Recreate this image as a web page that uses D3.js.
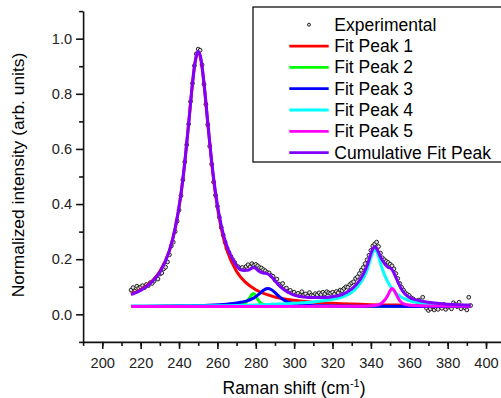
<!DOCTYPE html>
<html lang="en">
<head>
<meta charset="utf-8">
<script src="https://d3js.org/d3.v7.min.js"></script>
<style>
  body { margin: 0; background: #fff; }
  svg { display: block; font-family: "Liberation Sans", Arial, sans-serif; }
  .tick text { font-size: 14.6px; fill: #222; }
  .axis path, .axis line { stroke: #111; stroke-width: 1.6px; }
</style>
</head>
<body>
<script>
// experimental spectrum, one point per cm-1 from 215 to 392
const expStart = 215;
const expY = [
  0.088, 0.097, 0.084, 0.102, 0.095, 0.099, 0.104, 0.097, 0.108, 0.104,
  0.115, 0.112, 0.121, 0.132, 0.128, 0.146, 0.150, 0.165, 0.171, 0.190,
  0.216, 0.248, 0.262, 0.300, 0.338, 0.378, 0.430, 0.488, 0.553, 0.615,
  0.690, 0.772, 0.838, 0.902, 0.945, 0.962, 0.958, 0.905, 0.835, 0.762,
  0.688, 0.610, 0.545, 0.480, 0.432, 0.392, 0.352, 0.315, 0.288, 0.262,
  0.240, 0.225, 0.210, 0.198, 0.188, 0.176, 0.172, 0.166, 0.170, 0.162,
  0.174, 0.180, 0.172, 0.184, 0.178, 0.181, 0.176, 0.170, 0.168, 0.162,
  0.158, 0.152, 0.150, 0.141, 0.138, 0.124, 0.128, 0.110, 0.104, 0.112,
  0.092, 0.095, 0.083, 0.087, 0.078, 0.080, 0.072, 0.076, 0.068, 0.082,
  0.070, 0.074, 0.066, 0.079, 0.070, 0.068, 0.075, 0.071, 0.078, 0.072,
  0.080, 0.074, 0.082, 0.078, 0.076, 0.080, 0.073, 0.083, 0.078, 0.088,
  0.086, 0.094, 0.100, 0.098, 0.108, 0.114, 0.118, 0.130, 0.136, 0.148,
  0.160, 0.170, 0.184, 0.198, 0.214, 0.232, 0.248, 0.255, 0.262, 0.246,
  0.222, 0.205, 0.198, 0.192, 0.188, 0.182, 0.176, 0.165, 0.148, 0.130,
  0.112, 0.098, 0.088, 0.078, 0.072, 0.068, 0.060, 0.056, 0.050, 0.046,
  0.052, 0.040, 0.062, 0.034, 0.022, 0.014, 0.020, 0.028, 0.016, 0.024,
  0.018, 0.030, 0.022, 0.036, 0.018, 0.026, 0.032, 0.020, 0.042, 0.036,
  0.028, 0.044, 0.020, 0.030, 0.024, 0.016, 0.062, 0.032
];

// fitted components as [shift, intensity]
const peak1 = [[215,0.074],[220,0.089],[225,0.114],[230,0.155],[235,0.232],[238,0.312],[241,0.435],
  [243,0.550],[245,0.691],[247,0.836],[248,0.896],[249,0.936],[250,0.950],[251,0.936],[252,0.896],
  [253,0.836],[255,0.691],[257,0.550],[259,0.435],[262,0.312],[265,0.232],[270,0.155],[275,0.114],
  [280,0.089],[290,0.063],[300,0.051],[310,0.044],[320,0.040],[340,0.035],[360,0.033],[380,0.031],[392,0.031]];
const peak2 = [[215,0.028],[260,0.029],[268,0.031],[272,0.035],[274,0.040],[276,0.052],[277,0.062],
  [278,0.072],[278.7,0.076],[279.5,0.072],[280.5,0.060],[282,0.045],[284,0.036],[287,0.032],
  [295,0.030],[320,0.029],[392,0.028]];
const peak3 = [[215,0.029],[240,0.031],[255,0.033],[265,0.037],[270,0.041],[275,0.048],[278,0.056],
  [280,0.064],[282,0.075],[284,0.087],[285.5,0.093],[286.5,0.094],[288,0.090],[290,0.079],[292,0.066],
  [294,0.055],[296,0.047],[300,0.039],[305,0.034],[315,0.031],[340,0.029],[392,0.028]];
const peak4 = [[215,0.029],[260,0.031],[280,0.034],[300,0.040],[310,0.045],[320,0.055],[325,0.063],
  [330,0.080],[333,0.100],[336,0.130],[338,0.160],[340,0.205],[341,0.225],[342,0.235],[343,0.228],
  [344,0.210],[345,0.185],[347,0.145],[349,0.115],[352,0.085],[355,0.066],[360,0.050],[365,0.042],
  [370,0.038],[380,0.034],[392,0.032]];
const peak5 = [[215,0.028],[335,0.029],[342,0.032],[345,0.038],[347,0.050],[348.5,0.065],[350,0.085],
  [351,0.094],[352,0.088],[353.5,0.068],[355,0.050],[357,0.038],[360,0.033],[370,0.030],[392,0.029]];
const cumulative = [[215,0.072],[220,0.087],[225,0.112],[230,0.153],[235,0.231],[238,0.312],[241,0.436],
  [243,0.551],[245,0.692],[247,0.838],[248,0.898],[249,0.938],[250,0.953],[251,0.940],[252,0.900],
  [253,0.840],[255,0.696],[257,0.556],[259,0.443],[262,0.322],[265,0.246],[268,0.200],[270,0.176],
  [273,0.160],[276,0.160],[278,0.168],[279,0.170],[280,0.166],[282,0.155],[284,0.150],[286.5,0.146],
  [289,0.130],[292,0.106],[295,0.088],[298,0.076],[300,0.070],[305,0.063],[310,0.061],[315,0.061],
  [320,0.064],[325,0.072],[330,0.092],[333,0.113],[336,0.145],[338,0.176],[340,0.220],[341,0.238],
  [342,0.245],[343,0.238],[344,0.225],[345,0.208],[347,0.185],[349,0.170],[350,0.168],[351,0.162],
  [352,0.150],[354,0.118],[356,0.090],[358,0.072],[360,0.062],[365,0.050],[370,0.044],[380,0.037],[392,0.034]];

const seriesNames = ["Fit Peak 1", "Fit Peak 2", "Fit Peak 3", "Fit Peak 4", "Fit Peak 5", "Cumulative Fit Peak"];
const seriesColors = ["#ff0000", "#00ff00", "#0000ff", "#00ffff", "#ff00ff", "#8000ff"];
const xTicks = [200, 220, 240, 260, 280, 300, 320, 340, 360, 380, 400];
const yTicks = [0.0, 0.2, 0.4, 0.6, 0.8, 1.0];

var width = 501, height = 398;

var svg = d3.select("body").append("svg")
    .attr("width", width)
    .attr("height", height);

var x = d3.scaleLinear().domain([190, 410]).range([83.1, 505.2]);
var y = d3.scaleLinear().domain([-0.1, 1.1]).range([341.9, 11.1]);

// minor ticks first, then the labelled axes on top
svg.append("g").attr("class", "axis")
    .attr("transform", "translate(0," + y(-0.1) + ")")
    .call(d3.axisBottom(x).tickValues(d3.range(190, 411, 10)).tickSize(4).tickFormat(""))
    .select(".domain").remove();
svg.append("g").attr("class", "axis")
    .attr("transform", "translate(" + x(190) + ",0)")
    .call(d3.axisLeft(y).tickValues(d3.range(-1, 12, 2).map(d => d / 10)).tickSize(4).tickFormat(""))
    .select(".domain").remove();

var xAxis = svg.append("g").attr("class", "axis")
    .attr("transform", "translate(0," + y(-0.1) + ")")
    .call(d3.axisBottom(x).tickValues(xTicks).tickSize(7).tickSizeOuter(0).tickPadding(5));
xAxis.selectAll(".tick text").attr("dy", "0.95em");

var yAxis = svg.append("g").attr("class", "axis")
    .attr("transform", "translate(" + x(190) + ",0)")
    .call(d3.axisLeft(y).tickValues(yTicks).tickSize(7).tickSizeOuter(0).tickPadding(4).tickFormat(d3.format(".1f")));

// experimental points
var expData = expY.map((v, i) => [expStart + i, v]);
svg.append("g").selectAll("circle")
    .data(expData)
    .enter()
    .append("circle")
    .attr("cx", d => x(d[0]))
    .attr("cy", d => y(d[1]))
    .attr("r", 1.9)
    .attr("fill", "#ddd")
    .attr("stroke", "#111")
    .attr("stroke-width", 0.9);

var line = d3.line()
    .x(d => x(d[0]))
    .y(d => y(d[1]))
    .curve(d3.curveMonotoneX);

var fits = [peak1, peak2, peak3, peak4, peak5, cumulative];
svg.append("g").selectAll("path")
    .data(fits)
    .enter()
    .append("path")
    .attr("d", line)
    .attr("fill", "none")
    .attr("stroke", (d, i) => seriesColors[i])
    .attr("stroke-width", 3)
    .attr("stroke-linejoin", "round");

// legend
var legend = svg.append("g");
legend.append("rect")
    .attr("x", 253).attr("y", 7)
    .attr("width", 260).attr("height", 155)
    .attr("fill", "#fff")
    .attr("stroke", "#111")
    .attr("stroke-width", 1.3);

var rowY = i => 24.7 + i * 21.33;
legend.append("circle")
    .attr("cx", 309).attr("cy", rowY(0))
    .attr("r", 1.5).attr("fill", "#ddd").attr("stroke", "#111").attr("stroke-width", 0.9);
legend.append("text")
    .attr("x", 334.3).attr("y", rowY(0) + 6)
    .style("font-size", "17.5px")
    .text("Experimental");

seriesNames.forEach(function(name, i) {
    legend.append("line")
        .attr("x1", 289.3).attr("x2", 328.7)
        .attr("y1", rowY(i + 1)).attr("y2", rowY(i + 1))
        .attr("stroke", seriesColors[i])
        .attr("stroke-width", 2.8);
    legend.append("text")
        .attr("x", 334.3).attr("y", rowY(i + 1) + 6)
        .style("font-size", "17.5px")
        .text(name);
});

// axis titles
var xt = svg.append("text")
    .attr("x", 294).attr("y", 393.5)
    .attr("text-anchor", "middle")
    .style("font-size", "17.5px");
xt.append("tspan").text("Raman shift (cm");
xt.append("tspan").attr("dy", -7).style("font-size", "11px").text("-1");
xt.append("tspan").attr("dy", 7).text(")");

svg.append("text")
    .attr("transform", "translate(24,175) rotate(-90)")
    .attr("text-anchor", "middle")
    .style("font-size", "17.4px")
    .text("Normalized intensity (arb. units)");
</script>
</body>
</html>
